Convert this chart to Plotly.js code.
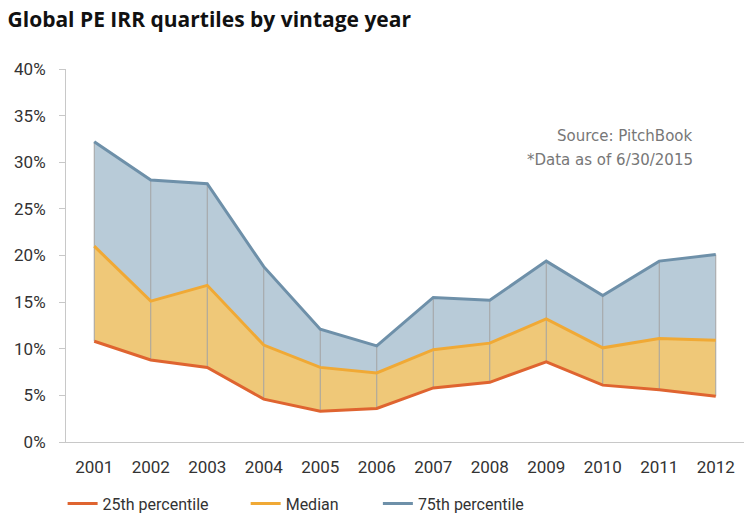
<!DOCTYPE html>
<html>
<head>
<meta charset="utf-8">
<script src="https://cdn.plot.ly/plotly-3.0.1.min.js"></script>
<style>
  html, body { margin: 0; padding: 0; background: #fff; }
  #chart { width: 752px; height: 528px; }
</style>
</head>
<body>
<div id="chart"></div>
<script>
// vintage years and IRR quartiles (fractions)
const years = [2001, 2002, 2003, 2004, 2005, 2006, 2007, 2008, 2009, 2010, 2011, 2012];
const p25 = [0.108, 0.088, 0.080, 0.046, 0.033, 0.036, 0.058, 0.064, 0.086, 0.061, 0.056, 0.049];
const median = [0.210, 0.151, 0.168, 0.104, 0.080, 0.074, 0.099, 0.106, 0.132, 0.101, 0.111, 0.109];
const p75 = [0.322, 0.281, 0.277, 0.188, 0.121, 0.103, 0.155, 0.152, 0.194, 0.157, 0.194, 0.201];

const tickFont = { family: 'Roboto, sans-serif', size: 17, color: '#333' };
const legendFont = { family: 'Roboto, sans-serif', size: 16, color: '#333' };
const noteFont = { family: 'DejaVu Sans, sans-serif', size: 15, color: '#777' };

// gray drop lines from 75th down to 25th at each year
const dropX = [];
const dropY = [];
years.forEach((yr, i) => {
  dropX.push(yr, yr, null);
  dropY.push(p75[i], p25[i], null);
});

// band fills first (kept out of the legend), then the lines on top
const hidden = { color: 'rgba(0,0,0,0)', width: 0 };
const fills = [
  { x: years, y: p25, mode: 'lines', line: hidden, showlegend: false, hoverinfo: 'skip' },
  { x: years, y: median, mode: 'lines', line: hidden, fill: 'tonexty', fillcolor: '#efc878', showlegend: false, hoverinfo: 'skip' },
  { x: years, y: p75, mode: 'lines', line: hidden, fill: 'tonexty', fillcolor: '#b8cbd8', showlegend: false, hoverinfo: 'skip' }
];

const drops = {
  x: dropX, y: dropY, mode: 'lines', showlegend: false, hoverinfo: 'skip',
  line: { color: '#a3a3a3', width: 1 }
};

const lines = [
  { x: years, y: p25, name: '25th percentile', mode: 'lines', line: { color: '#df6430', width: 3 }, legend: 'legend' },
  { x: years, y: median, name: 'Median', mode: 'lines', line: { color: '#f0a935', width: 3 }, legend: 'legend2' },
  { x: years, y: p75, name: '75th percentile', mode: 'lines', line: { color: '#6e90a9', width: 3 }, legend: 'legend3' }
];

const legendBase = {
  orientation: 'h', xref: 'paper', yref: 'paper', xanchor: 'left', yanchor: 'middle',
  y: -0.165, bgcolor: 'rgba(0,0,0,0)', font: legendFont, itemwidth: 30
};

const layout = {
  width: 752,
  height: 528,
  paper_bgcolor: '#fff',
  plot_bgcolor: '#fff',
  margin: { l: 66, r: 8, t: 69, b: 82 },
  title: {
    text: 'Global PE IRR quartiles by vintage year',
    x: 0.01, xref: 'container', xanchor: 'left',
    y: 0.962, yref: 'container', yanchor: 'middle',
    font: { family: 'Open Sans, sans-serif', size: 21, color: '#111', weight: 'bold' }
  },
  xaxis: {
    range: [2000.5, 2012.5], tickvals: years, ticktext: years.map(String),
    showgrid: false, zeroline: false, showline: true, linecolor: '#c8c8c8', linewidth: 1,
    ticks: '', tickfont: tickFont, ticklabelstandoff: 10
  },
  yaxis: {
    range: [0, 0.4], dtick: 0.05, tickformat: '.0%',
    showgrid: false, zeroline: false, showline: true, linecolor: '#c8c8c8', linewidth: 1,
    ticks: 'outside', ticklen: 6, tickcolor: '#c8c8c8', tickfont: tickFont,
    ticklabelstandoff: 10
  },
  showlegend: true,
  legend: Object.assign({}, legendBase, { x: -0.005 }),
  legend2: Object.assign({}, legendBase, { x: 0.265 }),
  legend3: Object.assign({}, legendBase, { x: 0.46 }),
  annotations: [
    {
      text: 'Source: PitchBook', xref: 'paper', yref: 'paper', x: 0.928, y: 0.82,
      xanchor: 'right', yanchor: 'middle', showarrow: false, font: noteFont
    },
    {
      text: '*Data as of 6/30/2015', xref: 'paper', yref: 'paper', x: 0.928, y: 0.756,
      xanchor: 'right', yanchor: 'middle', showarrow: false, font: noteFont
    }
  ]
};

Plotly.newPlot('chart', fills.concat([drops], lines), layout, { displayModeBar: false, staticPlot: true });
</script>
</body>
</html>
